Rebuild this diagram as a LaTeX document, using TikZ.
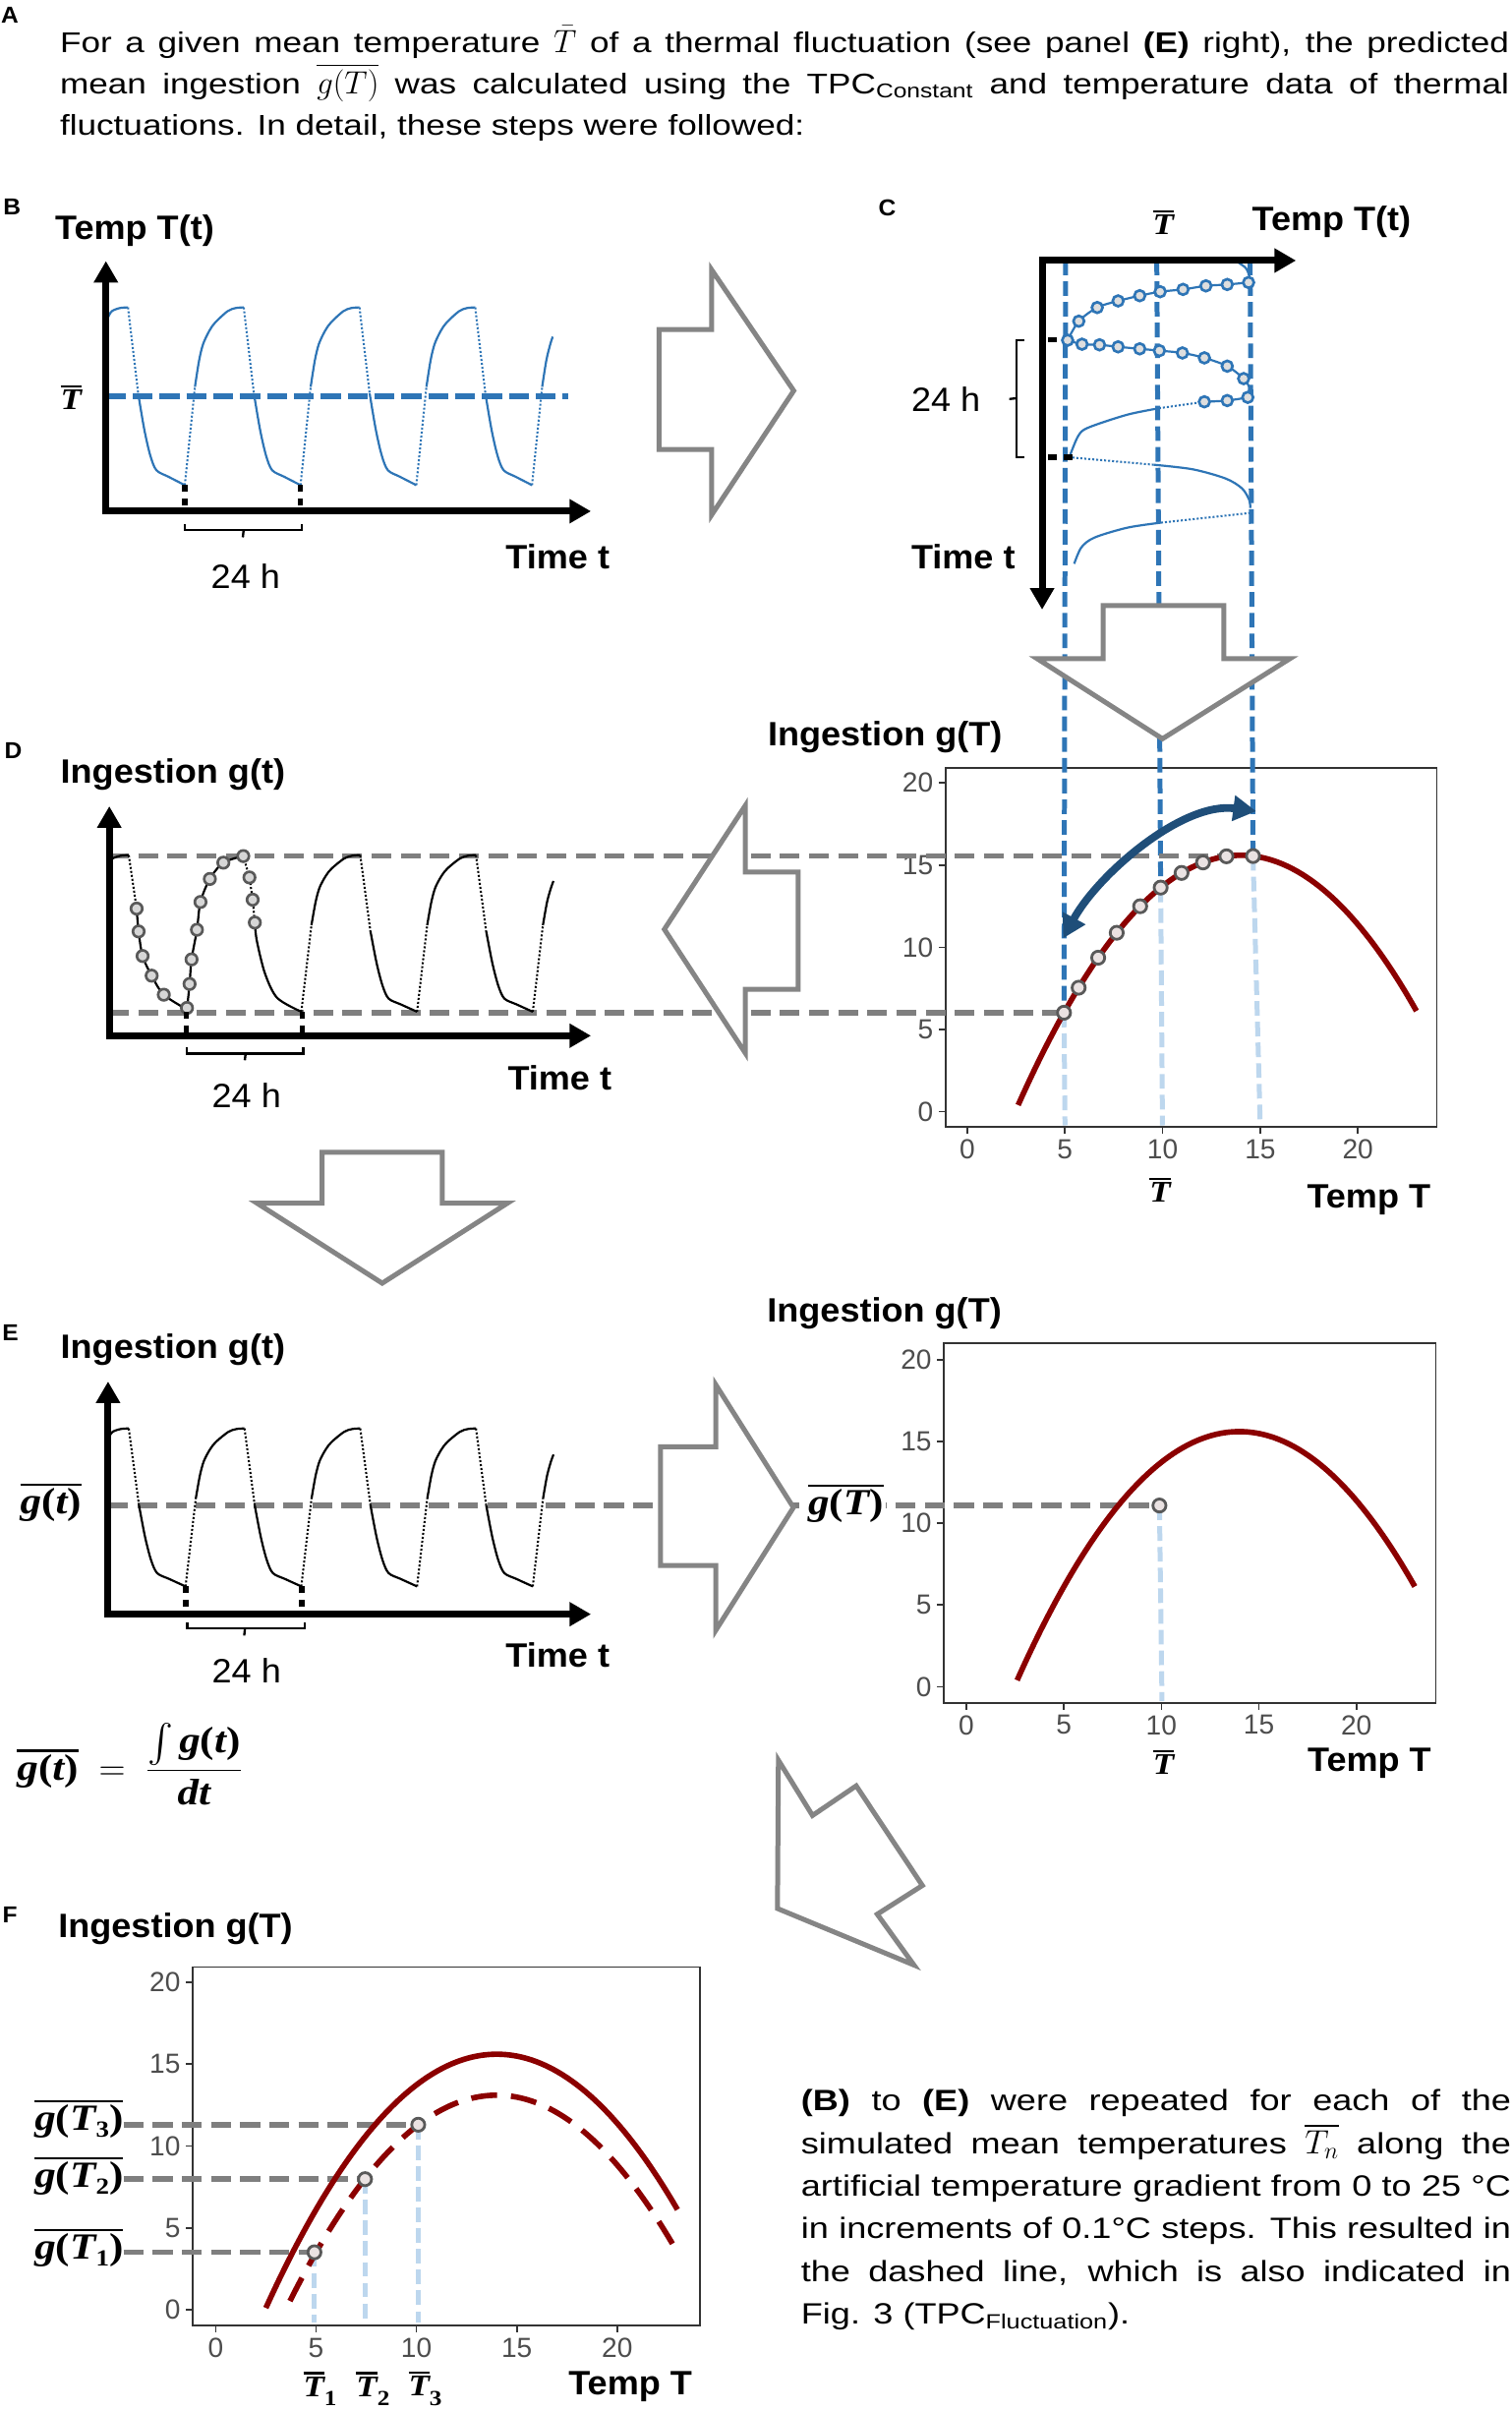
\RequirePackage{fix-cm}
\documentclass[tikz,border=0pt]{standalone}
\usepackage{amsmath}
\usepackage{fontspec}
\setmainfont{Liberation Sans}[FakeStretch=1.05]
\newfontfamily\parafont{Liberation Sans}[FakeStretch=1.21]
\newfontfamily\tickfont{Liberation Sans}
\newfontfamily\sbi{Liberation Serif}[FakeStretch=1.15]
\newcommand\bit[1]{{\sbi\bfseries\itshape #1}}
\newcommand\bup[1]{{\sbi\bfseries #1}}
\newcommand\obar[1]{\vbox{\hrule height 1.4pt\kern 1.6pt\hbox{#1}}}
\usetikzlibrary{arrows.meta}
\definecolor{tblue}{HTML}{2E75B6}
\definecolor{dblue}{HTML}{1F4E79}
\definecolor{lblue}{HTML}{BDD7EE}
\definecolor{dgray}{HTML}{7F7F7F}
\definecolor{agray}{HTML}{858585}
\definecolor{tpcred}{HTML}{8B0000}
\definecolor{ticklab}{HTML}{4D4D4D}
\definecolor{boxc}{HTML}{333333}
\definecolor{ptgray}{HTML}{595959}
\definecolor{ptfill}{HTML}{EAE2E2}
\definecolor{dfill}{HTML}{D6D6D6}
\definecolor{cfill}{HTML}{DEDEDE}
\tikzset{
  myaxis/.style={line width=4.5pt, line join=miter, {Triangle[length=14pt,width=15pt]}-{Triangle[length=14pt,width=15pt]}},
  mybig/.style={draw=agray, line width=3.2pt, fill=white, line join=miter},
  mygray/.style={draw=dgray, line width=3.5pt, dash pattern=on 13pt off 6pt},
  mybluedash/.style={draw=tblue, line width=3.2pt, dash pattern=on 9.5pt off 4pt},
  mylightdash/.style={draw=lblue, line width=3.2pt, dash pattern=on 9.5pt off 4pt},
  mywave/.style={line width=1.4pt},
  mydots/.style={line width=1.3pt, dash pattern=on 1.3pt off 1.3pt},
  mytpc/.style={draw=tpcred, line width=3.6pt},
  mybox/.style={draw=boxc, line width=1.2pt},
  mytick/.style={draw=boxc, line width=1.1pt},
  myticklab/.style={font=\tickfont\fontsize{18}{18}\selectfont, text=ticklab, inner sep=0pt},
  myttl/.style={font=\bfseries\fontsize{22}{22}\selectfont, inner sep=0pt, anchor=base west},
  mylet/.style={font=\bfseries\fontsize{15}{15}\selectfont, inner sep=0pt, anchor=base west},
  myhrs/.style={font=\fontsize{22}{22}\selectfont, inner sep=0pt, anchor=base},
  mybi/.style={font=\fontsize{19.5}{19.5}\selectfont, inner sep=0pt},
  mygl/.style={font=\fontsize{24}{24}\selectfont, inner sep=0pt},
  mypara/.style={font=\parafont\fontsize{18.6}{18.6}\selectfont, inner sep=0pt, anchor=base west},
  myparb/.style={font=\parafont\fontsize{19.1}{19.1}\selectfont, inner sep=0pt, anchor=base west},
  myptc/.style={circle, draw=ptgray, fill=ptfill, line width=1.8pt, minimum size=8.5pt, inner sep=0pt},
  mydpt/.style={circle, draw=ptgray, fill=dfill, line width=1.7pt, minimum size=7.4pt, inner sep=0pt},
  mycpt/.style={circle, draw=tblue, fill=cfill, line width=1.7pt, minimum size=7pt, inner sep=0pt},
  myblk/.style={line width=3.5pt, dash pattern=on 4.5pt off 4.3pt},
  mybrace/.style={line width=1.5pt},
  mydarr/.style={draw=dblue, line width=5pt, {Triangle[length=15pt,width=16pt]}-{Triangle[length=15pt,width=16pt]}},
}
\newcommand\wvfull{%
  \draw[mydots] (0,0) -- (6.6,.553);
  \draw[mywave] plot[smooth] coordinates {(6.6,.553) (9.3,.701) (11.9,.793) (15.9,.867) (19.8,.915) (27.8,.978) (33,.996) (38.4,1)};
  \draw[mydots] (38.4,1) -- (45,.516);
  \draw[mywave] plot[smooth] coordinates {(45,.516) (49,.313) (52.9,.167) (56.9,.084) (64.8,.047) (75.4,0)};
}
\newcommand\wvfirst{%
  \draw[mywave] plot[smooth] coordinates {(25.1,.94) (27.8,.978) (33,.996) (38.4,1)};
  \draw[mydots] (38.4,1) -- (45,.516);
  \draw[mywave] plot[smooth] coordinates {(45,.516) (49,.313) (52.9,.167) (56.9,.084) (64.8,.047) (75.4,0)};
}
\newcommand\wvrise{%
  \draw[mywave] plot[smooth] coordinates {(25.1,.94) (27.8,.978) (33,.996) (38.4,1)};
}
\newcommand\wvlast{%
  \draw[mydots] (0,0) -- (6.6,.553);
  \draw[mywave] plot[smooth] coordinates {(6.6,.553) (9.3,.701) (11.9,.793) (13.5,.835)};
}
\newcommand\Tbar{\obar{\bit{T}}}
\newcommand\gof[1]{\obar{\bit{g}\bup{(}#1\bup{)}}}
\begin{document}
\begin{tikzpicture}[x=1pt,y=-1pt]
\fill[white] (0,0) rectangle (985,1570.4);
\useasboundingbox (0,0) rectangle (985,1570.4);

% ---------------- paragraph A
\node[mylet] (labA) at (0.5,15) {A};
\node[mypara] (pa1) at (38.9,34.1) {\makebox[944pt][s]{For a given mean temperature {\fontsize{21}{21}\selectfont$\bar{T}$} of a thermal fluctuation (see panel \textbf{(E)} right), the predicted}};
\node[mypara] (pa2) at (38.9,61.2) {\makebox[944pt][s]{mean ingestion {\fontsize{21}{21}\selectfont$\overline{g(T)}$} was calculated using the TPC\textsubscript{Constant} and temperature data of thermal}};
\node[mypara] (pa3) at (38.9,88.2) {fluctuations. In detail, these steps were followed:};

% ---------------- panel B
\node[mylet] (labB) at (2,139.8) {B};
\node[myttl] (tB) at (35.8,155.8) {Temp T(t)};
\node[mybi] (TbB) at (46.3,259) {\Tbar};
\coordinate (Bm1) at (69,258); \coordinate (Bm2) at (370,258);
\draw[draw=tblue, line width=4.2pt, dash pattern=on 13pt off 4.5pt] (Bm1) -- (Bm2);
\begin{scope}[shift={(45,316)}, x=1pt, y=115.8pt, color=tblue]
  \wvfirst
  \foreach \k in {1,2,3} {\begin{scope}[shift={(75.4*\k,0)}]\wvfull\end{scope}}
  \begin{scope}[shift={(301.6,0)}]\wvlast\end{scope}
\end{scope}
\draw[myaxis] (69,170) -- (69,333) -- (385,333);
\draw[myblk] (120.4,316) -- (120.4,333);
\draw[myblk] (195.8,316) -- (195.8,333);
\draw[mybrace] (120.6,341.6) -- (120.6,345.4) -- (196.8,345.4) -- (196.8,341.6);
\draw[mybrace] (158.7,345.4) -- (158.2,350);
\node[myhrs] (hB) at (160,383.2) {24 h};
\node[myttl] (timeB) at (329.3,370.8) {Time t};

% ---------------- plot 1 (ingestion vs temperature)
\node[myttl] (tP1) at (500,486) {Ingestion g(T)};
\draw[mybox] (616.1,500.3) rectangle (936,734.2);
\foreach \t in {0,5,10,15,20} {
  \draw[mytick] ({630.2+12.72*\t},734.2) -- ++(0,4.5);
  \node[myticklab] (pax\t) at ({630.2+12.72*\t},748.5) {\t};
  \draw[mytick] (616.1,{724-10.7*\t}) -- ++(-4.5,0);
  \node[myticklab, anchor=east] (pay\t) at (608.1,{724-10.7*\t}) {\t};
}
\node[myttl] (xP1) at (851.3,786.9) {Temp T};
\node[mybi] (TbP1) at (755.8,775) {\Tbar};
\begin{scope}[shift={(630.2,724)}, x=12.72pt, y=10.7pt]
  \foreach \i/\t in {1/4.95,2/5.7,3/6.7,4/7.65,5/8.85,6/9.9,7/10.97,8/12.07,9/13.27,10/14.63}
    \coordinate (P\i) at (\t,{15.6-0.117*(\t-14)*(\t-14)});
\end{scope}
\coordinate (cL) at (694.2,169.7); \coordinate (cM) at (753.6,169.7); \coordinate (cR) at (814.4,169.7);
\coordinate (bL) at (693.8,733); \coordinate (bM) at (757.3,733); \coordinate (bR) at (821,733);
\draw[mybluedash] (cL) -- (P1);
\draw[mybluedash] (cM) -- (P6);
\draw[mybluedash] (cR) -- (P10);
\draw[mylightdash] (P1) -- (bL);
\draw[mylightdash] (P6) -- (bM);
\draw[mylightdash] (P10) -- (bR);
\coordinate (Dax) at (71,600);
\draw[mygray] (Dax |- P10) -- (P10);
\draw[mygray] (Dax |- P1) -- (P1);
\begin{scope}[shift={(630.2,724)}, x=12.72pt, y=10.7pt]
  \draw[mytpc] plot[domain=2.6:23, samples=80, smooth] (\x,{15.6-0.117*(\x-14)*(\x-14)});
\end{scope}
\foreach \i in {1,...,10} \node[myptc] (pp\i) at (P\i) {};
\coordinate (dA) at (692.6,611.2); \coordinate (dB) at (818.4,528.4);
\draw[mydarr] (dA) .. controls (715,570) and (770,522) .. (dB);

% ---------------- panel C
\node[mylet] (labC) at (572.1,140.5) {C};
\node[myttl] (tC) at (815.5,150.5) {Temp T(t)};
\node[mybi] (TbC) at (757.9,145) {\Tbar};
\begin{scope}[color=tblue]
\draw[mywave] plot[smooth] coordinates {(807,171.2) (811.5,174.5) (813.8,179.5) (813.4,184)};
\draw[mywave] plot[smooth] coordinates {(813.4,184) (799.5,185.3) (785.6,186.2) (770.7,188.5) (755.8,190) (742.5,192.6) (728.4,196) (714.8,200.3) (702.8,209.2) (695.5,221.6)};
\draw[mywave] plot[smooth] coordinates {(695.5,221.6) (704.9,224.2) (716.3,224.6) (728.4,225.9) (742.5,227.2) (755.3,228.4) (770.3,229.9) (784.6,233.1) (799.5,238.5) (810.2,246.6) (813.8,252)};
\draw[mywave] (813.8,252) -- (813.5,258.8);
\draw[mywave] plot[smooth] coordinates {(813.5,258.8) (799.5,260.9) (784.6,261.7)};
\draw[mydots] (784.6,261.7) -- (755.8,265.8);
\draw[mywave] plot[smooth] coordinates {(755.8,265.8) (734.4,270.1) (708.8,278.6) (702.4,284) (697,296.8)};
\draw[mydots] (696,297.8) -- (751.5,302.7);
\draw[mywave] plot[smooth] coordinates {(751.5,302.7) (777.1,305.7) (798.5,311.7) (809.1,318.1) (813.8,325.6) (814.5,330.9)};
\draw[mydots] (814.5,334.1) -- (755.8,340.5);
\draw[mywave] plot[smooth] coordinates {(755.8,340.5) (734.4,343.7) (713.1,350.1) (704.5,356.5) (699.8,367.2)};
\end{scope}
\foreach \x/\y [count=\n] in {813.4/184,799.5/185.3,785.6/186.2,770.7/188.5,755.8/190,742.5/192.6,728.4/196,714.8/200.3,702.8/209.2,695.5/221.6,
  704.9/224.2,716.3/224.6,728.4/225.9,742.5/227.2,755.3/228.4,770.3/229.9,784.6/233.1,799.5/238.5,810.2/246.6,
  812.9/258.8,799.5/260.9,784.6/261.7}
  \node[mycpt] (cc\n) at (\x,\y) {};
\draw[myaxis] (844.3,169.7) -- (678.9,169.7) -- (678.9,397.1);
\draw[line width=3.5pt] (683,221.4) -- (688.5,221.4);
\draw[line width=3.5pt, dash pattern=on 5.5pt off 4.5pt] (683,297.8) -- (698.5,297.8);
\draw[mybrace] (667.2,221.4) -- (662.2,221.4) -- (662.2,297.8) -- (667.2,297.8);
\draw[mybrace] (662.2,259.4) -- (657.5,259.9);
\node[myhrs, anchor=base west] (hC) at (593.5,267.9) {24 h};
\node[myttl] (timeC) at (593.5,370.4) {Time t};

% ---------------- panel D
\node[mylet] (labD) at (2.7,494.2) {D};
\node[myttl] (tD) at (39.3,509.8) {Ingestion g(t)};
\begin{scope}[shift={(45.5,659)}, x=1pt, y=102pt, color=black]
  \wvrise
  \foreach \k in {2,3} {\begin{scope}[shift={(75.4*\k,0)}]\wvfull\end{scope}}
  \begin{scope}[shift={(301.6,0)}]\wvlast\end{scope}
\end{scope}
\draw[mydots] (83.9,557) -- (89,591.8);
\draw[mywave] plot[smooth] coordinates {(89,591.8) (90.3,606.7) (92.9,622.7) (98.8,635.5) (106.7,647.9) (121.8,657.5)};
\draw[mywave] plot[smooth] coordinates {(121.8,657.5) (123.5,640.9) (124.8,624.9) (128.3,605.6) (130.6,587.5) (136.7,572.5) (145.5,561.9) (158.5,557.6)};
\draw[mydots] (158.5,557.6) -- (162.5,571.5) -- (164.6,586) -- (166,600.9);
\draw[mywave] plot[smooth] coordinates {(166,600.9) (167.3,612.7) (172.6,634) (180.6,650) (196.3,659)};
\foreach \x/\y [count=\n] in {89/591.8,90.3/606.7,92.9/622.7,98.8/635.5,106.7/647.9,121.8/656.5,123.5/640.9,124.8/624.9,
  128.3/605.6,130.6/587.5,136.7/572.5,145.5/561.9,158.5/557.6,162.5/571.5,164.6/586,166/600.9}
  \node[mydpt] (dd\n) at (\x,\y) {};
\draw[myaxis] (71.2,525.1) -- (71.2,674.6) -- (385,674.6);
\draw[myblk] (121.5,659) -- (121.5,674.6);
\draw[myblk] (197,659) -- (197,674.6);
\draw[mybrace] (121.5,682) -- (121.5,686.3) -- (197.5,686.3) -- (197.5,682);
\draw[mybrace] (160,686.3) -- (159.5,690.6);
\node[myhrs] (hD) at (160.6,721.6) {24 h};
\node[myttl] (timeD) at (330.6,709.8) {Time t};

% ---------------- panel E (left)
\node[mylet] (labE) at (1.3,873.2) {E};
\node[myttl] (tE) at (39.3,884.9) {Ingestion g(t)};
\node[mygl] (gtE) at (33.2,979) {\gof{\bit{t}}};
% plot E right
\node[myttl] (tP2) at (499.6,861.2) {Ingestion g(T)};
\draw[mybox] (615.1,874.9) rectangle (935.4,1109.3);
\foreach \t in {0,5,10,15,20} {
  \draw[mytick] ({629.6+12.7*\t},1109.3) -- ++(0,4.5);
  \node[myticklab] (pbx\t) at ({629.6+12.7*\t},1123.6) {\t};
  \draw[mytick] (615.1,{1098.6-10.65*\t}) -- ++(-4.5,0);
  \node[myticklab, anchor=east] (pby\t) at (607.1,{1098.6-10.65*\t}) {\t};
}
\node[myttl] (xP2) at (851.7,1153.9) {Temp T};
\node[mybi] (TbP2) at (758,1148) {\Tbar};
\coordinate (PE) at ({629.6+12.7*9.9},{1098.6-10.65*11.08});
\coordinate (Eax) at (70.4,1000);
\coordinate (Ebot) at (757,1108);
\draw[mygray] (Eax |- PE) -- (PE);
\draw[mylightdash] (PE) -- (Ebot);
\begin{scope}[shift={(629.6,1098.6)}, x=12.7pt, y=10.65pt]
  \draw[mytpc] plot[domain=2.6:23, samples=80, smooth] (\x,{15.6-0.117*(\x-14)*(\x-14)});
\end{scope}
\node[myptc] (ppE) at (PE) {};
\node[mygl, fill=white, inner sep=1.5pt] (gTE) at (551,979.5) {\gof{\bit{T}}};
\begin{scope}[shift={(45.5,1033.3)}, x=1pt, y=102.9pt, color=black]
  \wvfirst
  \foreach \k in {1,2,3} {\begin{scope}[shift={(75.4*\k,0)}]\wvfull\end{scope}}
  \begin{scope}[shift={(301.6,0)}]\wvlast\end{scope}
\end{scope}
\draw[myaxis] (70.4,899.8) -- (70.4,1051.4) -- (385,1051.4);
\draw[myblk] (121,1033.3) -- (121,1051.4);
\draw[myblk] (196.5,1033.3) -- (196.5,1051.4);
\draw[mybrace] (122.1,1056.8) -- (122.1,1060.6) -- (198.5,1060.6) -- (198.5,1056.8);
\draw[mybrace] (159.6,1060.6) -- (159.1,1065.3);
\node[myhrs] (hE) at (160.6,1096.3) {24 h};
\node[myttl] (timeE) at (329.3,1085.6) {Time t};
\node[mygl, anchor=west] (form) at (11,1149) {$\displaystyle \hbox{\gof{\bit{t}}}\;=\;\frac{\int\hbox{\bit{g}\bup{(}\bit{t}\bup{)}}}{\hbox{\bit{dt}}}$};

% ---------------- big outline arrows
\draw[mybig] (429.3,214.6) -- (463.6,214.6) -- (463.6,175.7) -- (517.1,254.5) -- (463.6,335.4) -- (463.6,292.7) -- (429.3,292.7) -- cycle;
\draw[mybig] (718.7,394.4) -- (797.3,394.4) -- (797.3,429.1) -- (840.2,429.1) -- (757.3,481.2) -- (675.8,429.1) -- (718.7,429.1) -- cycle;
\draw[mybig] (520,568) -- (485.6,568) -- (485.6,524.6) -- (432.8,605.3) -- (485.6,686) -- (485.6,644.4) -- (520,644.4) -- cycle;
\draw[mybig] (209.8,750.5) -- (288.2,750.5) -- (288.2,783.6) -- (330.7,783.6) -- (249,835.8) -- (167.3,783.6) -- (209.8,783.6) -- cycle;
\draw[mybig] (430.3,942.4) -- (466.3,942.4) -- (466.3,901.9) -- (516.9,981.9) -- (466.3,1061.9) -- (466.3,1019.6) -- (430.3,1019.6) -- cycle;
\draw[mybig] (507.1,1146.5) -- (529.3,1182.5) -- (557.8,1163.2) -- (600.9,1228.1) -- (571.5,1246.8) -- (595.4,1279.9) -- (506.5,1243.1) -- cycle;

% ---------------- panel F
\node[mylet] (labF) at (1.5,1252.5) {F};
\node[myttl] (tF) at (37.8,1262.3) {Ingestion g(T)};
\draw[mybox] (125.7,1281.2) rectangle (455.8,1514.8);
\foreach \t in {0,5,10,15,20} {
  \draw[mytick] ({140.5+13.08*\t},1514.8) -- ++(0,4.5);
  \node[myticklab] (pcx\t) at ({140.5+13.08*\t},1529.5) {\t};
  \draw[mytick] (125.7,{1504.6-10.68*\t}) -- ++(-4.5,0);
  \node[myticklab, anchor=east] (pcy\t) at (117.7,{1504.6-10.68*\t}) {\t};
}
\begin{scope}[shift={(140.5,1504.6)}, x=13.08pt, y=10.68pt]
  \coordinate (F1) at (4.92,3.52);
  \coordinate (F2) at (7.44,7.98);
  \coordinate (F3) at (10.09,11.3);
\end{scope}
\coordinate (Fbot) at (200,1513);
\node[mygl, anchor=east] (gF3) at (80.5,1380.5) {\gof{\bit{T}\raisebox{-0.35ex}{\fontsize{15}{15}\selectfont\bup{3}}}};
\node[mygl, anchor=east] (gF2) at (80.5,1417.5) {\gof{\bit{T}\raisebox{-0.35ex}{\fontsize{15}{15}\selectfont\bup{2}}}};
\node[mygl, anchor=east] (gF1) at (80.5,1464) {\gof{\bit{T}\raisebox{-0.35ex}{\fontsize{15}{15}\selectfont\bup{1}}}};
\draw[mygray] (gF3.east |- F3) -- (F3);
\draw[mygray] (gF2.east |- F2) -- (F2);
\draw[mygray] (gF1.east |- F1) -- (F1);
\draw[mylightdash] (F1) -- (F1 |- Fbot);
\draw[mylightdash] (F2) -- (F2 |- Fbot);
\draw[mylightdash] (F3) -- (F3 |- Fbot);
\begin{scope}[shift={(140.5,1504.6)}, x=13.08pt, y=10.68pt]
  \draw[mytpc] plot[domain=2.5:23, samples=80, smooth] (\x,{15.6-0.117*(\x-14)*(\x-14)});
  \draw[mytpc, dash pattern=on 17pt off 9pt] plot[domain=3.7:23, samples=80, smooth] (\x,{13.1-0.1183*(\x-14)*(\x-14)});
\end{scope}
\node[myptc] (ppF1) at (F1) {};
\node[myptc] (ppF2) at (F2) {};
\node[myptc] (ppF3) at (F3) {};
\node[mybi] (TF1) at (208.5,1556) {\Tbar\raisebox{-0.6ex}{\fontsize{14}{14}\selectfont\bup{1}}};
\node[mybi] (TF2) at (243,1556) {\Tbar\raisebox{-0.6ex}{\fontsize{14}{14}\selectfont\bup{2}}};
\node[mybi] (TF3) at (277,1556) {\Tbar\raisebox{-0.6ex}{\fontsize{14}{14}\selectfont\bup{3}}};
\node[myttl] (xF) at (370.2,1560.1) {Temp T};

% ---------------- bottom paragraph
\node[myparb] (pb1) at (521.7,1374.9) {\makebox[462.5pt][s]{\textbf{(B)} to \textbf{(E)} were repeated for each of the}};
\node[myparb] (pb2) at (521.7,1402.65) {\makebox[462.5pt][s]{simulated mean temperatures {\fontsize{22}{22}\selectfont$\overline{T_n}$} along the}};
\node[myparb] (pb3) at (521.7,1430.4) {\makebox[462.5pt][s]{artificial temperature gradient from 0 to 25 °C}};
\node[myparb] (pb4) at (521.7,1458.15) {\makebox[462.5pt][s]{in increments of 0.1°C steps. This resulted in}};
\node[myparb] (pb5) at (521.7,1485.9) {\makebox[462.5pt][s]{the dashed line, which is also indicated in}};
\node[myparb] (pb6) at (521.7,1513.65) {Fig. 3 (TPC\textsubscript{Fluctuation}).};
\end{tikzpicture}
\end{document}
